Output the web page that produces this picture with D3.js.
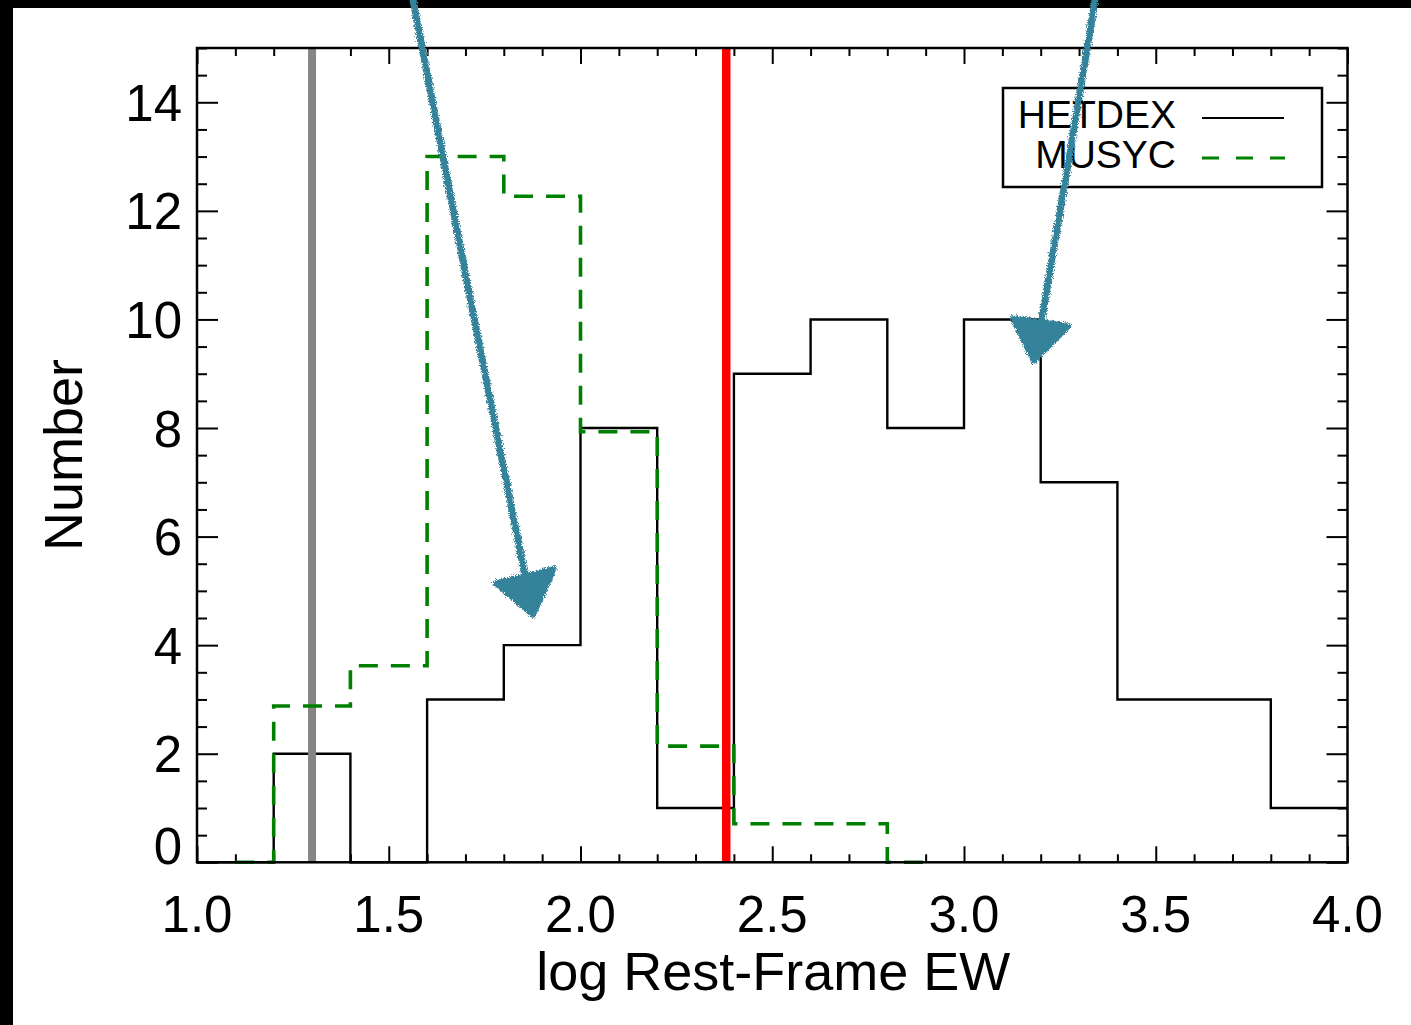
<!DOCTYPE html>
<html>
<head>
  <meta charset="utf-8">
  <title>log Rest-Frame EW</title>
  <script src="https://d3js.org/d3.v7.min.js"></script>
  <style>
    body { margin: 0; background: #fff; }
    svg text { font-family: "Liberation Sans", Arial, Helvetica, sans-serif; fill: #000; }
    .tick line { stroke: #000; stroke-width: 2; }
  </style>
</head>
<body>
<div id="chart"></div>
<script>
// histogram steps: left bin edge and count (last point closes the last bin)
var hetdexEdges  = [1.0, 1.2, 1.4, 1.6, 1.8, 2.0, 2.2, 2.4, 2.6, 2.8, 3.0, 3.2, 3.4, 3.6, 3.8, 4.0];
var hetdexCounts = [0,   2,   0,   3,   4,   8,   1,   9,   10,  8,   10,  7,   3,   3,   1,   1];
var musycEdges   = [1.1, 1.2,  1.4,  1.6,  1.8,   2.0,  2.2,  2.4,  2.6,  2.8, 2.9];
var musycCounts  = [0,   2.88, 3.62, 13.0, 12.27, 7.93, 2.14, 0.71, 0.71, 0,   0];
var xTicks = [1.0, 1.5, 2.0, 2.5, 3.0, 3.5, 4.0];
var yTicks = [0, 2, 4, 6, 8, 10, 12, 14];
var grayLine = 1.30, redLine = 2.38;
var legendNames = ["HETDEX", "MUSYC"];

// hand drawn arrows (data units): shaft points, then head triangle
var arrows = [
  { shaft: [[1.563, 15.9], [1.712, 10.36], [1.855, 5.29]],
    head: [[1.780, 5.14], [1.930, 5.40], [1.876, 4.56]] },
  { shaft: [[3.342, 15.9], [3.263, 12.48], [3.198, 9.81]],
    head: [[3.128, 10.02], [3.272, 9.88], [3.182, 9.24]] }
];

function draw() {
  var W = 1411, H = 1025;
  var pLeft = 197, pRight = 1347.5, pTop = 48, pBottom = 862.3;

  var svg = d3.select("#chart").append("svg").attr("width", W).attr("height", H);
  svg.append("rect").attr("width", W).attr("height", H).attr("fill", "#fff");

  var x = d3.scaleLinear().domain([1, 4]).range([pLeft, pRight]);
  var y = d3.scaleLinear().domain([0, 15]).range([pBottom, pTop]);

  var xMinor = d3.range(10, 41).map(function(v) { return v / 10; }).filter(function(v) { return xTicks.indexOf(v) < 0; });
  var yMinor = d3.range(0, 31).map(function(v) { return v / 2; }).filter(function(v) { return yTicks.indexOf(v) < 0; });

  function tickAxis(ax, vals, len, tr) {
    var g = svg.append("g").attr("transform", tr)
      .call(ax.tickValues(vals).tickSizeInner(-len).tickSizeOuter(0).tickFormat(""));
    g.select(".domain").remove();
  }
  tickAxis(d3.axisBottom(x), xTicks, 16, "translate(0," + pBottom + ")");
  tickAxis(d3.axisBottom(x), xMinor, 8, "translate(0," + pBottom + ")");
  tickAxis(d3.axisTop(x), xTicks, 16, "translate(0," + pTop + ")");
  tickAxis(d3.axisTop(x), xMinor, 8, "translate(0," + pTop + ")");
  tickAxis(d3.axisLeft(y), yTicks, 21, "translate(" + pLeft + ",0)");
  tickAxis(d3.axisLeft(y), yMinor, 10, "translate(" + pLeft + ",0)");
  tickAxis(d3.axisRight(y), yTicks, 21, "translate(" + pRight + ",0)");
  tickAxis(d3.axisRight(y), yMinor, 10, "translate(" + pRight + ",0)");

  // tick labels
  svg.append("g").selectAll("text").data(xTicks).enter().append("text")
    .attr("x", function(d) { return x(d); }).attr("y", 932)
    .attr("text-anchor", "middle").attr("font-size", 51)
    .text(function(d) { return d.toFixed(1); });
  svg.append("g").selectAll("text").data(yTicks).enter().append("text")
    .attr("x", 182).attr("y", function(d) { return d === 0 ? y(d) + 2 : y(d) + 18.5; })
    .attr("text-anchor", "end").attr("font-size", 51)
    .text(function(d) { return d; });

  // axis titles
  svg.append("text").attr("x", (pLeft + pRight) / 2 + 1).attr("y", 990)
    .attr("text-anchor", "middle").attr("font-size", 54).text("log Rest-Frame EW");
  svg.append("text").attr("transform", "translate(82,455) rotate(-90)")
    .attr("text-anchor", "middle").attr("font-size", 54).text("Number");

  // histograms
  var step = d3.line().curve(d3.curveStepAfter)
    .x(function(d) { return x(d[0]); }).y(function(d) { return y(d[1]); });

  svg.append("path").datum(d3.zip(hetdexEdges, hetdexCounts))
    .attr("d", step).attr("fill", "none").attr("stroke", "#000").attr("stroke-width", 2.4);

  svg.append("line").attr("x1", x(grayLine)).attr("x2", x(grayLine))
    .attr("y1", y(15)).attr("y2", y(0)).attr("stroke", "#858585").attr("stroke-width", 8);
  svg.append("line").attr("x1", x(redLine)).attr("x2", x(redLine))
    .attr("y1", y(15)).attr("y2", y(0)).attr("stroke", "#ff0000").attr("stroke-width", 8.5);

  svg.append("path").datum(d3.zip(musycEdges, musycCounts))
    .attr("d", step).attr("fill", "none").attr("stroke", "#008000")
    .attr("stroke-width", 3.6).attr("stroke-dasharray", "19,13");

  // frame
  svg.append("rect").attr("x", pLeft).attr("y", pTop)
    .attr("width", pRight - pLeft).attr("height", pBottom - pTop)
    .attr("fill", "none").attr("stroke", "#000").attr("stroke-width", 2.5);

  // legend
  var lg = svg.append("g");
  lg.append("rect").attr("x", 1003).attr("y", 88).attr("width", 319).attr("height", 99)
    .attr("fill", "#fff").attr("stroke", "#000").attr("stroke-width", 2.5);
  lg.selectAll("text").data(legendNames).enter().append("text")
    .attr("x", 1176).attr("y", function(d, i) { return 128 + i * 40; })
    .attr("text-anchor", "end").attr("font-size", 39).text(function(d) { return d; });
  lg.append("line").attr("x1", 1202).attr("x2", 1284).attr("y1", 118).attr("y2", 118)
    .attr("stroke", "#000").attr("stroke-width", 2.2);
  lg.append("line").attr("x1", 1202).attr("x2", 1285).attr("y1", 158).attr("y2", 158)
    .attr("stroke", "#008000").attr("stroke-width", 3).attr("stroke-dasharray", "17,17");

  // black border of the screenshot
  svg.append("rect").attr("x", 0).attr("y", 0).attr("width", W).attr("height", 8).attr("fill", "#000");
  svg.append("rect").attr("x", 0).attr("y", 0).attr("width", 13).attr("height", H).attr("fill", "#000");

  // rough marker texture for the arrows
  var defs = svg.append("defs");
  var f = defs.append("filter").attr("id", "rough").attr("x", "-10%").attr("y", "-10%")
    .attr("width", "120%").attr("height", "120%");
  f.append("feTurbulence").attr("type", "fractalNoise").attr("baseFrequency", 1.1)
    .attr("numOctaves", 2).attr("seed", 3).attr("result", "noise");
  f.append("feDisplacementMap").attr("in", "SourceGraphic").attr("in2", "noise")
    .attr("scale", 6).attr("xChannelSelector", "R").attr("yChannelSelector", "G");

  var teal = "#34839a";
  var curve = d3.line().curve(d3.curveBasis)
    .x(function(d) { return x(d[0]); }).y(function(d) { return y(d[1]); });
  var tri = d3.line().curve(d3.curveLinearClosed)
    .x(function(d) { return x(d[0]); }).y(function(d) { return y(d[1]); });
  var ag = svg.append("g").attr("filter", "url(#rough)");
  arrows.forEach(function(a) {
    ag.append("path").datum(a.shaft).attr("d", curve).attr("fill", "none")
      .attr("stroke", teal).attr("stroke-width", 7).attr("stroke-linecap", "round");
    ag.append("path").datum(a.head).attr("d", tri)
      .attr("fill", teal).attr("stroke", teal).attr("stroke-width", 6).attr("stroke-linejoin", "round");
  });
}
draw();
</script>
</body>
</html>
